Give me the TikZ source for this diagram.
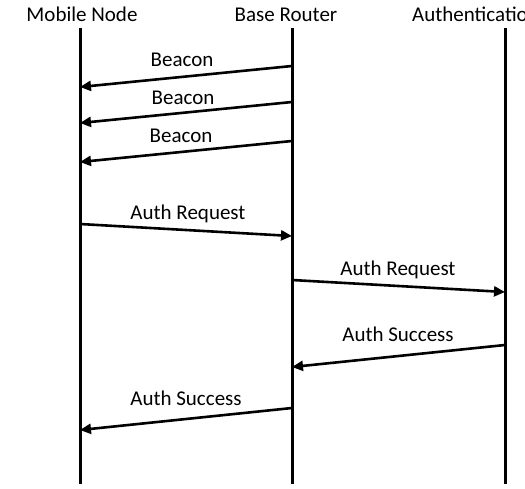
\documentclass[tikz,border=0pt]{standalone}
\usepackage{fontspec}
\setmainfont{Carlito}
\usetikzlibrary{arrows.meta}

\begin{document}
\begin{tikzpicture}[x=1pt,y=-1pt,
  every node/.style={font=\fontsize{21}{25}\selectfont,inner sep=0pt},
  lifeline/.style={line width=3pt},
  msg/.style={line width=2.6pt,-{Triangle[length=11pt,width=10pt]}},
  msglbl/.style={anchor=base},
]
\useasboundingbox (0,0) rectangle (525,488);

%% Headers
\node[anchor=base] (mn) at (82,21) {Mobile Node};
\node[anchor=base] (br) at (286,21) {Base Router};
\node[anchor=base west] (au) at (412,21) {Authentication};

%% Lifelines
\coordinate (mnt) at (80,28);  \coordinate (mnb) at (80,484);
\coordinate (brt) at (292,28); \coordinate (brb) at (292,484);
\coordinate (aut) at (505,28); \coordinate (aub) at (505,484);
\draw[lifeline] (mnt) -- (mnb);
\draw[lifeline] (brt) -- (brb);
\draw[lifeline] (aut) -- (aub);

%% Message end points
\coordinate (b1s) at (292,66);  \coordinate (b1e) at (80,87);
\coordinate (b2s) at (292,102); \coordinate (b2e) at (80,123);
\coordinate (b3s) at (292,141); \coordinate (b3e) at (80,162);
\coordinate (r1s) at (80,224);  \coordinate (r1e) at (292,236);
\coordinate (r2s) at (292,280); \coordinate (r2e) at (505,292);
\coordinate (s1s) at (505,345); \coordinate (s1e) at (292,367);
\coordinate (s2s) at (292,408); \coordinate (s2e) at (80,430);

%% Beacons
\draw[msg] (b1s) -- (b1e);
\node[msglbl] (lb1) at (182,66) {Beacon};
\draw[msg] (b2s) -- (b2e);
\node[msglbl] (lb2) at (183,104) {Beacon};
\draw[msg] (b3s) -- (b3e);
\node[msglbl] (lb3) at (181,142) {Beacon};

%% Authentication exchange
\draw[msg] (r1s) -- (r1e);
\node[msglbl] (lr1) at (188,219) {Auth Request};
\draw[msg] (r2s) -- (r2e);
\node[msglbl] (lr2) at (398,275) {Auth Request};
\draw[msg] (s1s) -- (s1e);
\node[msglbl] (ls1) at (398,341) {Auth Success};
\draw[msg] (s2s) -- (s2e);
\node[msglbl] (ls2) at (186,405) {Auth Success};

\end{tikzpicture}
\end{document}
